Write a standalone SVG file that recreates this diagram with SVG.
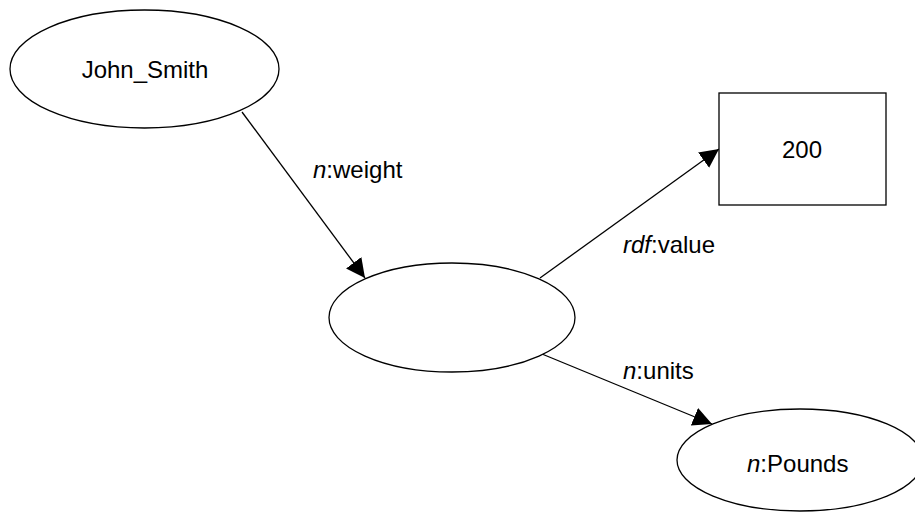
<svg xmlns="http://www.w3.org/2000/svg" width="915" height="516" viewBox="0 0 915 516">
  <style>
    .shape { fill: #ffffff; stroke: #000000; stroke-width: 1.3; }
    .edge { fill: none; stroke: #000000; stroke-width: 1.3; }
    text { font-family: "Liberation Sans", Arial, sans-serif; font-size: 24px; fill: #000000; }
    .it { font-style: italic; }
  </style>
  <defs>
    <marker id="arrow" markerUnits="userSpaceOnUse" markerWidth="20" markerHeight="20" refX="19" refY="9.5" orient="auto">
      <path d="M0,0 L19,9.5 L0,19 z" fill="#000000"/>
    </marker>
  </defs>
  <rect x="0" y="0" width="915" height="516" fill="#ffffff"/>
  <g id="connectors">
    <g id="edge-weight">
      <line class="edge" x1="242" y1="112" x2="365" y2="278" marker-end="url(#arrow)"/>
      <text x="313" y="178"><tspan class="it">n</tspan>:weight</text>
    </g>
    <g id="edge-value">
      <line class="edge" x1="540" y1="278" x2="719" y2="149" marker-end="url(#arrow)"/>
      <text x="623" y="253"><tspan class="it">rdf</tspan>:value</text>
    </g>
    <g id="edge-units">
      <line class="edge" x1="542" y1="354" x2="712" y2="424" marker-end="url(#arrow)"/>
      <text x="623" y="379"><tspan class="it">n</tspan>:units</text>
    </g>
  </g>
  <g id="node-john">
    <ellipse class="shape" cx="144.5" cy="69" rx="134.5" ry="59"/>
    <text x="145" y="78" text-anchor="middle">John_Smith</text>
  </g>
  <g id="node-blank">
    <ellipse class="shape" cx="452" cy="317.5" rx="123" ry="54.5"/>
  </g>
  <g id="node-200">
    <rect class="shape" x="719" y="93" width="167" height="112"/>
    <text x="802" y="158" text-anchor="middle">200</text>
  </g>
  <g id="node-pounds">
    <ellipse class="shape" cx="800" cy="460" rx="123" ry="51"/>
    <text x="747" y="472"><tspan class="it">n</tspan>:Pounds</text>
  </g>
</svg>
